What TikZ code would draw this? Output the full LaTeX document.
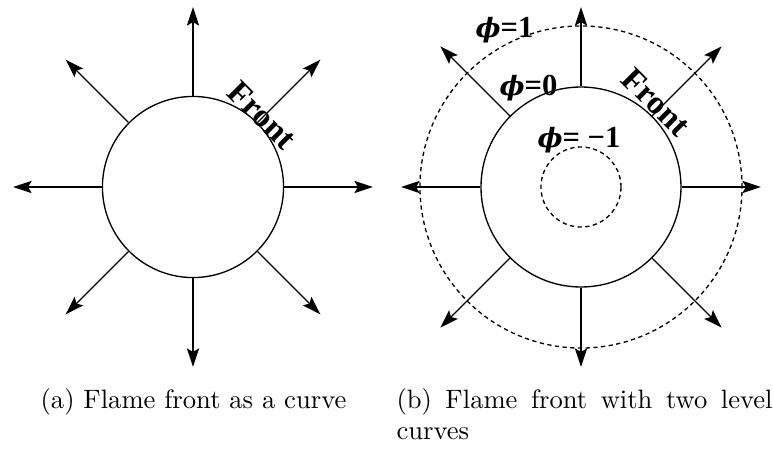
\documentclass[tikz,border=0pt]{standalone}
\usepackage{fontspec}
\usetikzlibrary{calc, arrows.meta}
\newfontfamily\labelfont{Liberation Serif}
\newfontfamily\phifont{DejaVu Serif}
\newcommand{\levelphi}{{\phifont\bfseries\itshape\fontsize{10}{14}\selectfont ϕ}}
\tikzset{
    flamefront/.style={circle, draw, inner sep=0pt, line width=0.5pt},
    levelcurve/.style={circle, draw, dash pattern=on 1.6pt off 1.3pt, inner sep=0pt, line width=0.5pt},
    normalarrow/.style={draw, line width=0.5pt, -{Stealth[length=7pt, width=4.6pt, inset=1.3pt]}},
    tag/.style={font=\labelfont\bfseries\fontsize{12.5}{14}\selectfont, inner sep=0pt},
    phitag/.style={font=\labelfont\bfseries\fontsize{11.5}{14}\selectfont, inner sep=0pt, anchor=base west},
    caption/.style={font=\normalsize, text width=141.4pt, inner sep=0pt}
}
\begin{document}
\begin{tikzpicture}[x=0.376pt, y=0.376pt]
\useasboundingbox (0,0) rectangle (773,449);
% (a) Flame front only
\node[flamefront, minimum size=68.1pt] (fa) at (193,262) {};
\foreach \a in {0,45,...,315} {
    \coordinate (ta\a) at ($(fa.center)+(\a:180)$);
    \draw[normalarrow] (fa.\a) -- (ta\a);
}
\node[tag, rotate=-45] (fronta) at (262,334) {Front};
\node[caption, align=center, anchor=base] (capa) at (193.5,41) {(a) Flame front as a curve};

% (b) Flame front with level curves
\node[levelcurve, minimum size=121.1pt] (outer) at (581,262) {};
\node[levelcurve, minimum size=30.1pt] (inner) at (581,262) {};
\node[flamefront, minimum size=75.2pt] (fb) at (581,262) {};
\foreach \a/\r in {0/180,45/199,90/180,135/199,180/180,225/199,270/180,315/199} {
    \coordinate (tb\a) at ($(fb.center)+(\a:\r)$);
    \draw[normalarrow] (fb.\a) -- (tb\a);
}
\node[tag, rotate=-45] (frontb) at (656,347) {Front};
\node[phitag] (phiout) at (475,412) {\levelphi=1};
\node[phitag] (phizero) at (499,354) {\levelphi=0};
\node[phitag] (phiin) at (537,302) {\levelphi= −1};
\node[caption, align=justify, anchor=base west] (capb) at (396,41) {(b) Flame front with two level curves};
\end{tikzpicture}
\end{document}
